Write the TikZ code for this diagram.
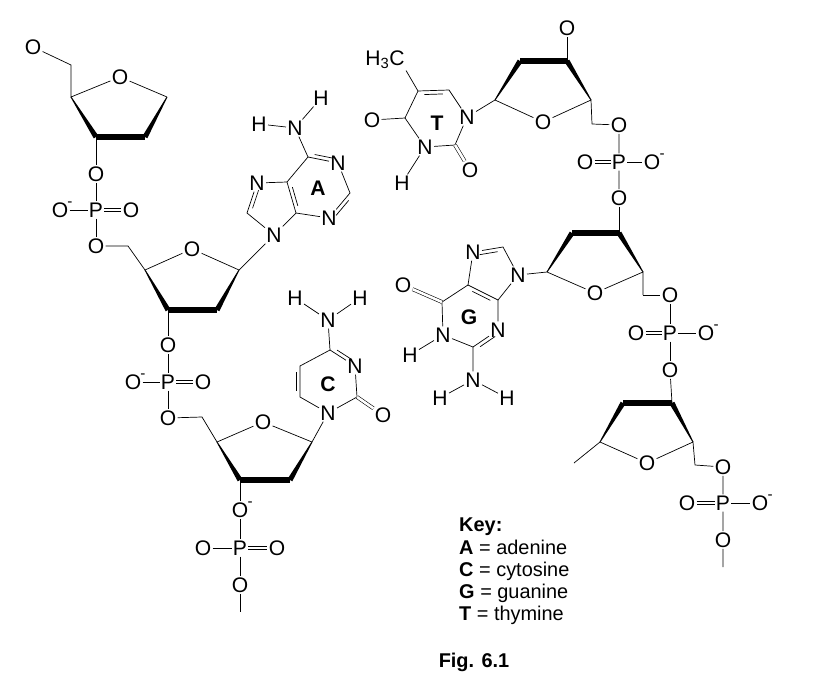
\documentclass[tikz,border=0pt]{standalone}
\usepackage{fontspec}
\setmainfont{Liberation Sans}
\usetikzlibrary{calc}
\tikzset{
  atm/.style={inner sep=1pt},
  bd/.style={line width=0.6pt},
  dbl/.style={double,double distance=2.2pt,line width=0.5pt},
  bar/.style={line width=4.5pt},
  neg/.style={label={[inner sep=0pt,font=\fontsize{13}{13}\selectfont,xshift=-2pt,yshift=-4.5pt]north east:-}}
}
\newcommand{\wedgeb}[2]{\fill ($(#1)!0.4pt!90:(#2)$) -- ($(#2)!2.25pt!-90:(#1)$) -- ($(#2)!2.25pt!90:(#1)$) -- ($(#1)!0.4pt!-90:(#2)$) -- cycle;}
\newcommand{\innerb}[3]{\draw[bd] ($(#1)!0.2!(#2)!3.2pt!#3:(#2)$) -- ($(#2)!0.2!(#1)!3.2pt!-#3:(#1)$);}
\begin{document}
\begin{tikzpicture}[x=0.03cm,y=-0.03cm,font=\fontsize{18}{21}\selectfont]
\useasboundingbox (0,0) rectangle (826,695);
% sugar 1
\node[atm] (s1o5) at (33,47) {O};
\coordinate (s1c5) at (71,65);
\coordinate (s1c4) at (71,97);
\node[atm] (s1o) at (120,77) {O};
\coordinate (s1c1) at (167,97);
\coordinate (s1c2) at (145,137);
\coordinate (s1c3) at (96,137);
\draw[bd] (s1o5) -- (s1c5) -- (s1c4) -- (s1o) -- (s1c1);
\wedgeb{s1c4}{s1c3}
\wedgeb{s1c1}{s1c2}
\draw[bar] (s1c3) -- (s1c2);
% phosphate 1
\node[atm] (p1o3) at (96,174) {O};
\node[atm] (p1) at (96,210) {P};
\node[atm,neg] (p1om) at (60,210) {O};
\node[atm] (p1od) at (131,210) {O};
\node[atm] (p1o5) at (96,246) {O};
\draw[bd] (s1c3) -- (p1o3) -- (p1) -- (p1o5);
\draw[bd] (p1om) -- (p1);
\draw[dbl] (p1) -- (p1od);
% sugar 2
\coordinate (s2c5) at (128,246);
\coordinate (s2c4) at (145,270);
\node[atm] (s2o) at (192,249) {O};
\coordinate (s2c1) at (239,270);
\coordinate (s2c2) at (217,310);
\coordinate (s2c3) at (168,310);
\draw[bd] (p1o5) -- (s2c5) -- (s2c4) -- (s2o) -- (s2c1);
\wedgeb{s2c4}{s2c3}
\wedgeb{s2c1}{s2c2}
\draw[bar] (s2c3) -- (s2c2);
% adenine
\node[atm] (an9) at (274,235) {N};
\coordinate (ac8) at (247,213);
\node[atm] (an7) at (257,183) {N};
\coordinate (ac5) at (287,182);
\coordinate (ac4) at (296,213);
\coordinate (ac6) at (308,157);
\node[atm] (an1) at (338,163) {N};
\coordinate (ac2) at (350,193);
\node[atm] (an3) at (329,218) {N};
\node[atm] (an6) at (295,128) {N};
\node[atm] (ah1) at (259,124) {H};
\node[atm] (ah2) at (321,98) {H};
\node[font=\fontsize{18}{21}\selectfont\bfseries] (alab) at (318,188) {A};
\draw[bd] (s2c1) -- (an9) -- (ac8) -- (an7) -- (ac5) -- (ac4) -- (an9);
\draw[bd] (ac5) -- (ac6) -- (an1) -- (ac2) -- (an3) -- (ac4);
\draw[bd] (ac6) -- (an6) -- (ah1);
\draw[bd] (an6) -- (ah2);
\innerb{an7}{ac8}{90}
\innerb{ac5}{ac4}{90}
\innerb{ac6}{an1}{90}
\innerb{ac2}{an3}{90}
% phosphate 2
\node[atm] (p2o3) at (168,345) {O};
\node[atm] (p2) at (168,382) {P};
\node[atm,neg] (p2om) at (133,382) {O};
\node[atm] (p2od) at (203,382) {O};
\node[atm] (p2o5) at (168,418) {O};
\draw[bd] (s2c3) -- (p2o3) -- (p2) -- (p2o5);
\draw[bd] (p2om) -- (p2);
\draw[dbl] (p2) -- (p2od);
% sugar 3
\coordinate (s3c5) at (202,417);
\coordinate (s3c4) at (217,442);
\node[atm] (s3o) at (263,422) {O};
\coordinate (s3c1) at (312,442);
\coordinate (s3c2) at (290,480);
\coordinate (s3c3) at (240,480);
\draw[bd] (p2o5) -- (s3c5) -- (s3c4) -- (s3o) -- (s3c1);
\wedgeb{s3c4}{s3c3}
\wedgeb{s3c1}{s3c2}
\draw[bar] (s3c3) -- (s3c2);
% cytosine
\node[atm] (cn1) at (328,413) {N};
\coordinate (cc2) at (357,397);
\node[atm] (co2) at (383,415) {O};
\node[atm] (cn3) at (355,366) {N};
\coordinate (cc4) at (330,350);
\coordinate (cc5) at (300,366);
\coordinate (cc6) at (300,397);
\node[atm] (cn4) at (328,320) {N};
\node[atm] (ch1) at (295,298) {H};
\node[atm] (ch2) at (360,298) {H};
\node[font=\fontsize{18}{21}\selectfont\bfseries] (clab) at (328,384) {C};
\draw[bd] (s3c1) -- (cn1) -- (cc2) -- (cn3) -- (cc4) -- (cc5) -- (cc6) -- (cn1);
\draw[dbl] (cc2) -- (co2);
\draw[bd] (cc4) -- (cn4) -- (ch1);
\draw[bd] (cn4) -- (ch2);
\innerb{cc4}{cn3}{90}
\innerb{cc5}{cc6}{-90}
% phosphate 3
\node[atm,neg] (p3o3) at (240,510) {O};
\node[atm] (p3) at (240,548) {P};
\node[atm] (p3ol) at (203,548) {O};
\node[atm] (p3od) at (277,548) {O};
\node[atm] (p3o5) at (240,585) {O};
\coordinate (p3end) at (240,612);
\draw[bd] (s3c3) -- (p3o3) -- (p3) -- (p3o5) -- (p3end);
\draw[bd] (p3ol) -- (p3);
\draw[dbl] (p3) -- (p3od);
% thymine
\node[atm] (tme) at (385,60) {H\textsubscript{3}C};
\coordinate (tc5) at (418,91);
\coordinate (tc6) at (449,90);
\node[atm] (tn1) at (467,117) {N};
\coordinate (tc2) at (455,145);
\node[atm] (to2) at (470,170) {O};
\node[atm] (tn3) at (425,147) {N};
\node[atm] (th) at (402,183) {H};
\coordinate (tc4) at (405,118);
\node[atm] (to4) at (372,120) {O};
\node[font=\fontsize{18}{21}\selectfont\bfseries] (tlab) at (437,123) {T};
\draw[bd] (tme.south east) -- (tc5) -- (tc6) -- (tn1) -- (tc2) -- (tn3) -- (tc4) -- (tc5);
\draw[dbl] (tc2) -- (to2);
\draw[bd] (tn3) -- (th);
\draw[bd] (tc4) -- (to4);
\innerb{tc5}{tc6}{-90}
% sugar 4
\coordinate (s4c1) at (495,100);
\coordinate (s4c2) at (520,61);
\coordinate (s4c3) at (567,61);
\coordinate (s4c4) at (591,100);
\node[atm] (s4o) at (543,122) {O};
\node[atm] (s4o3) at (567,28) {O};
\coordinate (s4c5) at (592,124);
\draw[bd] (tn1) -- (s4c1) -- (s4o) -- (s4c4) -- (s4c5);
\draw[bd] (s4c3) -- (s4o3);
\wedgeb{s4c1}{s4c2}
\wedgeb{s4c4}{s4c3}
\draw[bar] (s4c2) -- (s4c3);
% phosphate 4
\node[atm] (p4o5) at (619,125) {O};
\node[atm] (p4) at (619,162) {P};
\node[atm] (p4od) at (585,162) {O};
\node[atm,neg] (p4om) at (652,162) {O};
\node[atm] (p4o3) at (619,198) {O};
\draw[bd] (s4c5) -- (p4o5) -- (p4) -- (p4o3);
\draw[bd] (p4) -- (p4om);
\draw[dbl] (p4od) -- (p4);
% sugar 5
\coordinate (s5c3) at (619,233);
\coordinate (s5c2) at (572,233);
\coordinate (s5c1) at (547,272);
\node[atm] (s5o) at (595,293) {O};
\coordinate (s5c4) at (643,272);
\coordinate (s5c5) at (643,295);
\draw[bd] (p4o3) -- (s5c3);
\draw[bd] (s5c1) -- (s5o) -- (s5c4) -- (s5c5);
\wedgeb{s5c1}{s5c2}
\wedgeb{s5c4}{s5c3}
\draw[bar] (s5c2) -- (s5c3);
% guanine
\node[atm] (gn9) at (518,275) {N};
\coordinate (gc8) at (503,247);
\node[atm] (gn7) at (473,252) {N};
\coordinate (gc5) at (468,285);
\coordinate (gc4) at (498,300);
\node[atm] (gn3) at (498,330) {N};
\coordinate (gc2) at (473,347);
\node[atm] (gn1) at (443,335) {N};
\coordinate (gc6) at (442,302);
\node[atm] (go6) at (403,285) {O};
\node[atm] (gh1) at (410,355) {H};
\node[atm] (gn2) at (473,380) {N};
\node[atm] (gh2) at (440,398) {H};
\node[atm] (gh3) at (507,398) {H};
\node[font=\fontsize{18}{21}\selectfont\bfseries] (glab) at (469,317) {G};
\draw[bd] (s5c1) -- (gn9) -- (gc8) -- (gn7) -- (gc5) -- (gc4) -- (gn9);
\draw[bd] (gc4) -- (gn3) -- (gc2) -- (gn1) -- (gc6) -- (gc5);
\draw[dbl] (gc6) -- (go6);
\draw[bd] (gn1) -- (gh1);
\draw[bd] (gc2) -- (gn2) -- (gh2);
\draw[bd] (gn2) -- (gh3);
\innerb{gn7}{gc8}{-90}
\innerb{gc5}{gc4}{-90}
\innerb{gc2}{gn3}{-90}
% phosphate 5
\node[atm] (p5o5) at (670,295) {O};
\node[atm] (p5) at (670,333) {P};
\node[atm] (p5od) at (636,333) {O};
\node[atm,neg] (p5om) at (706,333) {O};
\node[atm] (p5o3) at (670,370) {O};
\draw[bd] (s5c5) -- (p5o5) -- (p5) -- (p5o3);
\draw[bd] (p5) -- (p5om);
\draw[dbl] (p5od) -- (p5);
% sugar 6
\coordinate (s6c3) at (672,403);
\coordinate (s6c2) at (623,403);
\coordinate (s6c1) at (600,442);
\node[atm] (s6o) at (647,463) {O};
\coordinate (s6c4) at (693,442);
\coordinate (s6c5) at (695,465);
\coordinate (s6end) at (574,463);
\draw[bd] (p5o3) -- (s6c3);
\draw[bd] (s6end) -- (s6c1) -- (s6o) -- (s6c4) -- (s6c5);
\wedgeb{s6c1}{s6c2}
\wedgeb{s6c4}{s6c3}
\draw[bar] (s6c2) -- (s6c3);
% phosphate 6
\node[atm] (p6o5) at (723,467) {O};
\node[atm] (p6) at (723,503) {P};
\node[atm] (p6od) at (687,503) {O};
\node[atm,neg] (p6om) at (760,503) {O};
\node[atm] (p6o3) at (723,540) {O};
\coordinate (p6end) at (723,567);
\draw[bd] (s6c5) -- (p6o5) -- (p6) -- (p6o3) -- (p6end);
\draw[bd] (p6) -- (p6om);
\draw[dbl] (p6od) -- (p6);
% key
\node[anchor=north west,align=left,inner sep=0pt,font=\fontsize{17}{19}\selectfont] (key) at (459,518)
  {\textbf{Key:}\\ \textbf{A} = adenine\\ \textbf{C} = cytosine\\ \textbf{G} = guanine\\ \textbf{T} = thymine};
\node[font=\fontsize{17}{20}\selectfont\bfseries] (fig) at (474,662) {Fig. 6.1};
\end{tikzpicture}
\end{document}
